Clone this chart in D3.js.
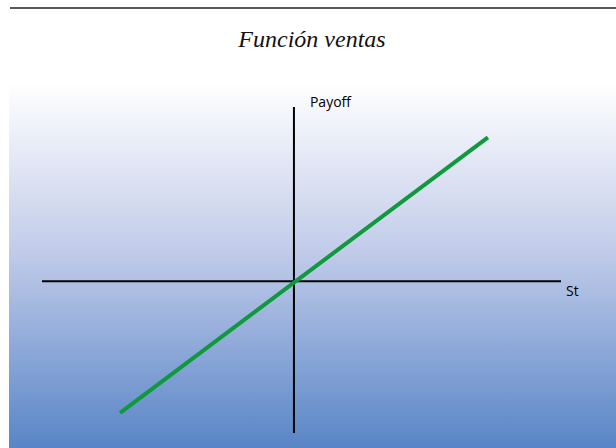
<!DOCTYPE html>
<html lang="es">
<head>
  <meta charset="UTF-8" />
  <title>Función ventas</title>
  <script src="https://d3js.org/d3.v7.min.js"></script>
  <style>
    html, body {
      margin: 0;
      padding: 0;
      width: 616px;
      height: 448px;
      overflow: hidden;
      background: #fff;
    }
    svg { display: block; }
    .title {
      font-family: "Liberation Serif", "DejaVu Serif", serif;
      font-style: italic;
      font-size: 24px;
      fill: #111;
    }
    .axis-label {
      font-family: "Open Sans", "Noto Sans", sans-serif;
      font-size: 14px;
      fill: #000;
    }
  </style>
</head>
<body>
<svg width="616" height="448"></svg>

<script>
// axis extents (in chart units) and the payoff line
const stDomain = [-100, 106];
const payoffDomain = [-60, 69];
const stValues = [-69, 77];
const payoffValues = [-52, 57];
const labels = { x: "St", y: "Payoff", title: "Función ventas" };

const W = 616, H = 448;
const svg = d3.select("svg");

const defs = svg.append("defs");
const grad = defs.append("linearGradient")
  .attr("id", "bg")
  .attr("x1", 0).attr("y1", 0).attr("x2", 0).attr("y2", 1);
grad.append("stop").attr("offset", "0%").attr("stop-color", "#ffffff");
grad.append("stop").attr("offset", "45%").attr("stop-color", "#c3cdea");
grad.append("stop").attr("offset", "100%").attr("stop-color", "#5885c6");

// top rule
svg.append("line")
  .attr("x1", 10).attr("x2", W)
  .attr("y1", 8).attr("y2", 8)
  .attr("stroke", "#222").attr("stroke-width", 1.5);

svg.append("text")
  .attr("class", "title")
  .attr("x", 312).attr("y", 47)
  .attr("text-anchor", "middle")
  .text(labels.title);

// gradient panel
svg.append("rect")
  .attr("x", 9).attr("y", 83)
  .attr("width", W - 9).attr("height", H - 83)
  .attr("fill", "url(#bg)");

const x = d3.scaleLinear().domain(stDomain).range([42, 561]);
const y = d3.scaleLinear().domain(payoffDomain).range([433, 107]);

// axes
svg.append("line")
  .attr("x1", x(stDomain[0])).attr("x2", x(stDomain[1]))
  .attr("y1", y(0)).attr("y2", y(0))
  .attr("stroke", "#000").attr("stroke-width", 2);

svg.append("line")
  .attr("x1", x(0)).attr("x2", x(0))
  .attr("y1", y(payoffDomain[0])).attr("y2", y(payoffDomain[1]))
  .attr("stroke", "#000").attr("stroke-width", 2);

svg.append("text")
  .attr("class", "axis-label")
  .attr("x", x(stDomain[1]) + 5).attr("y", y(0) + 15)
  .text(labels.x);

svg.append("text")
  .attr("class", "axis-label")
  .attr("x", x(0) + 16).attr("y", y(payoffDomain[1]))
  .text(labels.y);

// payoff line
const line = d3.line()
  .x(d => x(d[0]))
  .y(d => y(d[1]));

svg.append("path")
  .datum(d3.zip(stValues, payoffValues))
  .attr("d", line)
  .attr("fill", "none")
  .attr("stroke", "#0e9a3c")
  .attr("stroke-width", 4);
</script>
</body>
</html>
